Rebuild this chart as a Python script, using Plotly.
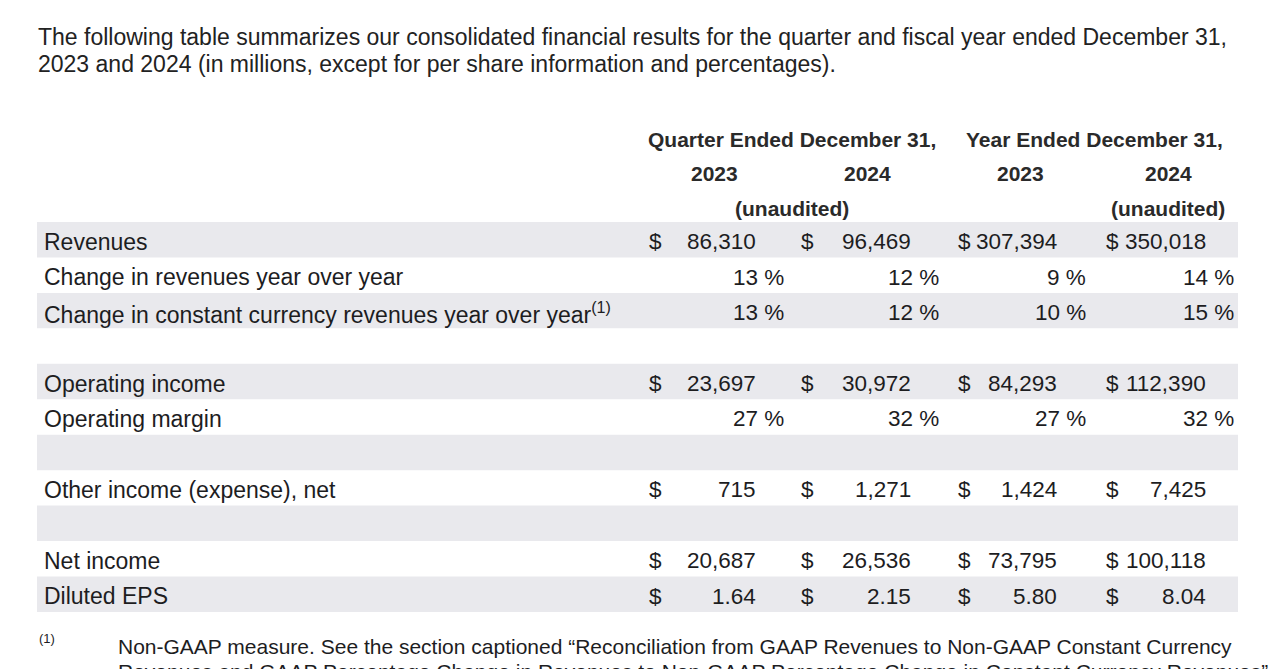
import plotly.graph_objects as go

# ---------------- data ----------------
intro_lines = [
    "The following table summarizes our consolidated financial results for the quarter and fiscal year ended December 31,",
    "2023 and 2024 (in millions, except for per share information and percentages).",
]
group_headers = ["Quarter Ended December 31,", "Year Ended December 31,"]
year_headers = ["2023", "2024", "2023", "2024"]
audit_notes = ["(unaudited)", "", "", "(unaudited)"]

row_labels = [
    "Revenues",
    "Change in revenues year over year",
    "Change in constant currency revenues year over year<sup>(1)</sup>",
    "",
    "Operating income",
    "Operating margin",
    "",
    "Other income (expense), net",
    "",
    "Net income",
    "Diluted EPS",
]
row_kinds = ["usd", "pct", "pct", None, "usd", "pct", None, "usd", None, "usd", "eps"]

q4_2023 = [86310, 13, 13, None, 23697, 27, None, 715, None, 20687, 1.64]
q4_2024 = [96469, 12, 12, None, 30972, 32, None, 1271, None, 26536, 2.15]
fy_2023 = [307394, 9, 10, None, 84293, 27, None, 1424, None, 73795, 5.80]
fy_2024 = [350018, 14, 15, None, 112390, 32, None, 7425, None, 100118, 8.04]
columns = [q4_2023, q4_2024, fy_2023, fy_2024]

footnote_mark = "(1)"
footnote_lines = [
    "Non-GAAP measure. See the section captioned \u201cReconciliation from GAAP Revenues to Non-GAAP Constant Currency",
    "Revenues and GAAP Percentage Change in Revenues to Non-GAAP Percentage Change in Constant Currency Revenues\u201d.",
]

# ---------------- layout / style ----------------
W, H = 1280, 669
FONT = "Liberation Sans, Arial, sans-serif"
TXT = "#1d1d1f"
HDR = "#2a2a2a"
BAND = "#e9e9ed"

table_left, table_right = 37, 1238
row_top, row_h = 222, 35.45
label_x = 43
dollar_x = [648, 800, 957, 1105]
value_right = [757, 912, 1058, 1207]
pct_right = [785, 940, 1087, 1235]
year_center = [714, 867, 1020, 1168]
group_center = [792, 1094]

shapes = []
annotations = []


def txt(x, y, s, size=23, anchor="left", bold=False, color=TXT):
    """Place text using pixel-like positions converted to paper coordinates."""
    if bold:
        s = "<b>" + s + "</b>"
    annotations.append(dict(
        x=x / W, y=1 - y / H, xref="paper", yref="paper", text=s, showarrow=False,
        xanchor=anchor, yanchor="middle", borderpad=0,
        font=dict(family=FONT, size=size, color=color),
    ))


# intro text
for i, line in enumerate(intro_lines):
    txt(37, 37 + i * 27.5, line, size=23, color="#222222")

# headers
for gc, gh in zip(group_center, group_headers):
    txt(gc, 139, gh, size=21, anchor="center", bold=True, color=HDR)
for yc, yh in zip(year_center, year_headers):
    txt(yc, 174, yh, size=21, anchor="center", bold=True, color=HDR)
for yc, note in zip(year_center, audit_notes):
    if note:
        txt(792 if yc < 900 else 1168, 209, note, size=21, anchor="center", bold=True, color=HDR)

# rows
for r, label in enumerate(row_labels):
    y0 = row_top + r * row_h
    yc = y0 + row_h / 2 + 2
    if r % 2 == 0:
        shapes.append(dict(type="rect", xref="paper", yref="paper",
                           x0=table_left / W, x1=table_right / W,
                           y0=1 - y0 / H, y1=1 - (y0 + row_h) / H,
                           fillcolor=BAND, line=dict(width=0), layer="below"))
    if label:
        txt(label_x, yc, label, size=23)
    kind = row_kinds[r]
    if kind is None:
        continue
    for c, col in enumerate(columns):
        v = col[r]
        if kind == "pct":
            txt(pct_right[c], yc, f"{v} %", size=22.5, anchor="right")
        else:
            s = f"{v:,.2f}" if kind == "eps" else f"{v:,}"
            txt(dollar_x[c], yc, "$", size=22.5)
            txt(value_right[c], yc, s, size=22.5, anchor="right")

# footnote
txt(38, 638, footnote_mark, size=13)
txt(117, 646, footnote_lines[0], size=21)
txt(117, 671, footnote_lines[1], size=21)

fig = go.Figure()
fig.update_layout(
    width=W, height=H, autosize=False,
    margin=dict(l=0, r=0, t=0, b=0),
    paper_bgcolor="white", plot_bgcolor="white",
    xaxis=dict(visible=False, fixedrange=True),
    yaxis=dict(visible=False, fixedrange=True),
    shapes=shapes, annotations=annotations, showlegend=False,
)
fig.write_html("out.html", config={"displayModeBar": False},
               post_script="document.body.style.margin='0';")
